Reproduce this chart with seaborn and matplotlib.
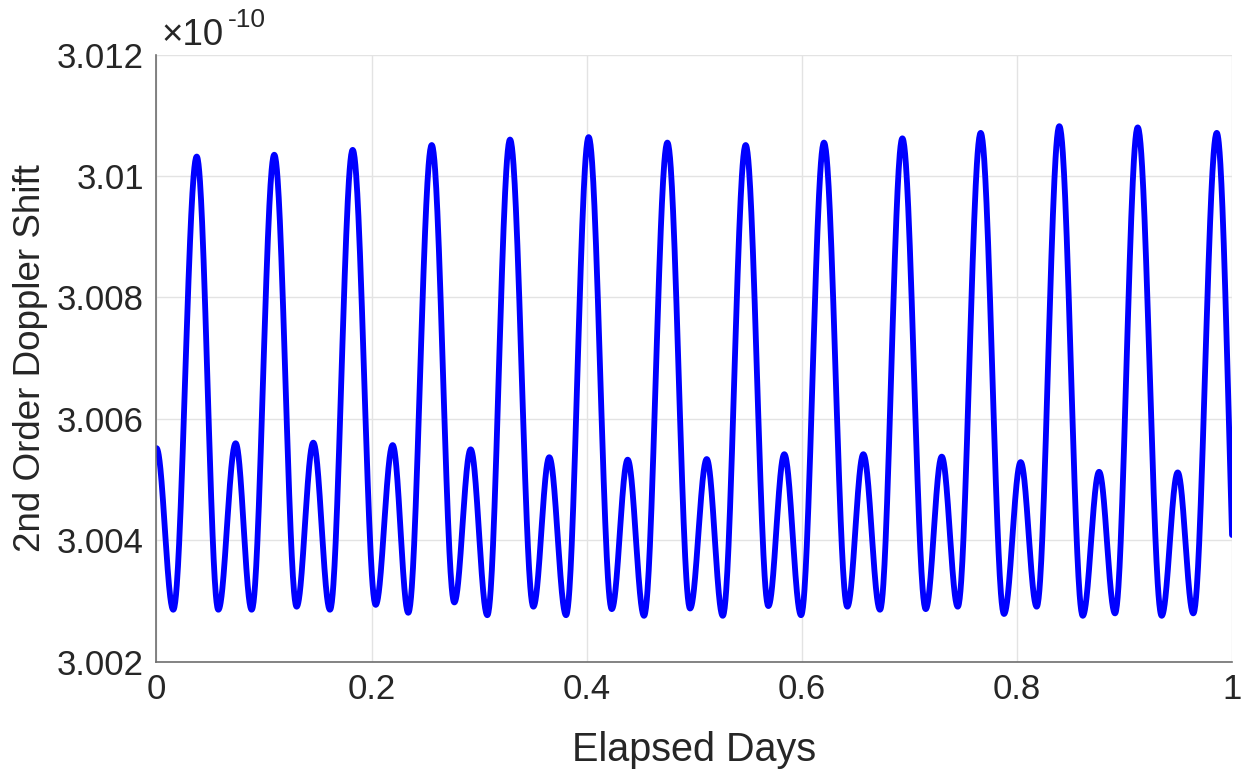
import numpy as np
import pandas as pd
import matplotlib
matplotlib.use("Agg")
import matplotlib.pyplot as plt
import seaborn as sns

# ---- data (turning points of the curve, y in units of 1e-10) ----
ext_t = [0.0000, 0.0156, 0.0374, 0.0575, 0.0736, 0.0885, 0.1095, 0.1303, 0.1458, 0.1613,
         0.1824, 0.2038, 0.2196, 0.2341, 0.2559, 0.2769, 0.2921, 0.3076, 0.3287, 0.3504,
         0.3652, 0.3808, 0.4018, 0.4233, 0.4381, 0.4533, 0.4750, 0.4961, 0.5116, 0.5265,
         0.5478, 0.5689, 0.5837, 0.5993, 0.6206, 0.6423, 0.6572, 0.6727, 0.6935, 0.7152,
         0.7301, 0.7450, 0.7663, 0.7880, 0.8035, 0.8184, 0.8394, 0.8612, 0.8764, 0.8912,
         0.9123, 0.9346, 0.9495, 0.9640, 0.9858, 1.0000]
ext_y = [3.00552, 3.00286, 3.01032, 3.00286, 3.00560, 3.00286, 3.01035, 3.00291, 3.00561, 3.00286,
         3.01043, 3.00294, 3.00557, 3.00281, 3.01051, 3.00298, 3.00550, 3.00277, 3.01060, 3.00291,
         3.00537, 3.00277, 3.01064, 3.00287, 3.00533, 3.00276, 3.01055, 3.00288, 3.00534, 3.00276,
         3.01051, 3.00292, 3.00542, 3.00277, 3.01055, 3.00291, 3.00542, 3.00286, 3.01062, 3.00287,
         3.00538, 3.00291, 3.01071, 3.00279, 3.00529, 3.00291, 3.01082, 3.00276, 3.00513, 3.00280,
         3.01080, 3.00276, 3.00512, 3.00280, 3.01071, 3.00409]

x_ticks = [0, 0.2, 0.4, 0.6, 0.8, 1]
x_tick_labels = ["0", "0.2", "0.4", "0.6", "0.8", "1"]
y_ticks = [3.002, 3.004, 3.006, 3.008, 3.010, 3.012]
y_tick_labels = ["3.002", "3.004", "3.006", "3.008", "3.01", "3.012"]
x_label = "Elapsed Days"
y_label = "2nd Order Doppler Shift"

# ---- smooth rendering through the turning points (cosine easing) ----
tt, yy = [], []
n_seg = len(ext_t) - 1
for i in range(n_seg):
    t0, t1 = ext_t[i], ext_t[i + 1]
    y0, y1 = ext_y[i], ext_y[i + 1]
    s = np.linspace(0, 1, 60, endpoint=(i == n_seg - 1))
    if i == n_seg - 1:
        # last segment is cut by the axis edge part-way down a descent
        half = ext_t[i - 3] - ext_t[i - 4]
        f = min((t1 - t0) / half, 0.95)
        w = (1 - np.cos(np.pi * s * f)) / (1 - np.cos(np.pi * f))
    else:
        w = (1 - np.cos(np.pi * s)) / 2
    tt.append(t0 + (t1 - t0) * s)
    yy.append(y0 + (y1 - y0) * w)
df = pd.DataFrame({"t": np.concatenate(tt), "y": np.concatenate(yy)})

# ---- styling ----
sns.set_theme(style="white")
plt.rcParams["font.family"] = ["Liberation Sans", "DejaVu Sans"]
text_col = "#262626"

fig = plt.figure(figsize=(12.47, 7.71), dpi=100)
ax = fig.add_axes([0.1255, 0.1414, 0.988 - 0.1255, 0.9293 - 0.1414])

sns.lineplot(data=df, x="t", y="y", ax=ax, color="#0000ff", linewidth=4.2,
             estimator=None, sort=False)

ax.set_xlim(0, 1)
ax.set_ylim(3.002, 3.012)
ax.set_xticks(x_ticks)
ax.set_xticklabels(x_tick_labels)
ax.set_yticks(y_ticks)
ax.set_yticklabels(y_tick_labels)
ax.grid(True, color="#e3e3e3", linewidth=1.0)
ax.set_axisbelow(True)

for side in ["top", "right"]:
    ax.spines[side].set_visible(False)
for side in ["left", "bottom"]:
    ax.spines[side].set_color("#6e6e6e")
    ax.spines[side].set_linewidth(1.2)

ax.tick_params(axis="both", direction="in", length=7.5, width=1.0, color="#3a3a3a",
               labelsize=25, labelcolor=text_col, pad=8)
ax.tick_params(axis="y", pad=9)

ax.set_xlabel(x_label, fontsize=28.5, color=text_col, labelpad=18)
ax.set_ylabel(y_label, fontsize=26.5, color=text_col, labelpad=6.5)

ax.annotate("\u00d710", xy=(0, 1), xycoords="axes fraction", xytext=(3.5, 6.8),
            textcoords="offset points", fontsize=26.5, color=text_col,
            ha="left", va="baseline")
ax.annotate("-10", xy=(0, 1), xycoords="axes fraction", xytext=(51.5, 19.5),
            textcoords="offset points", fontsize=19, color=text_col,
            ha="left", va="baseline")

fig.savefig("out.png", dpi=100)
